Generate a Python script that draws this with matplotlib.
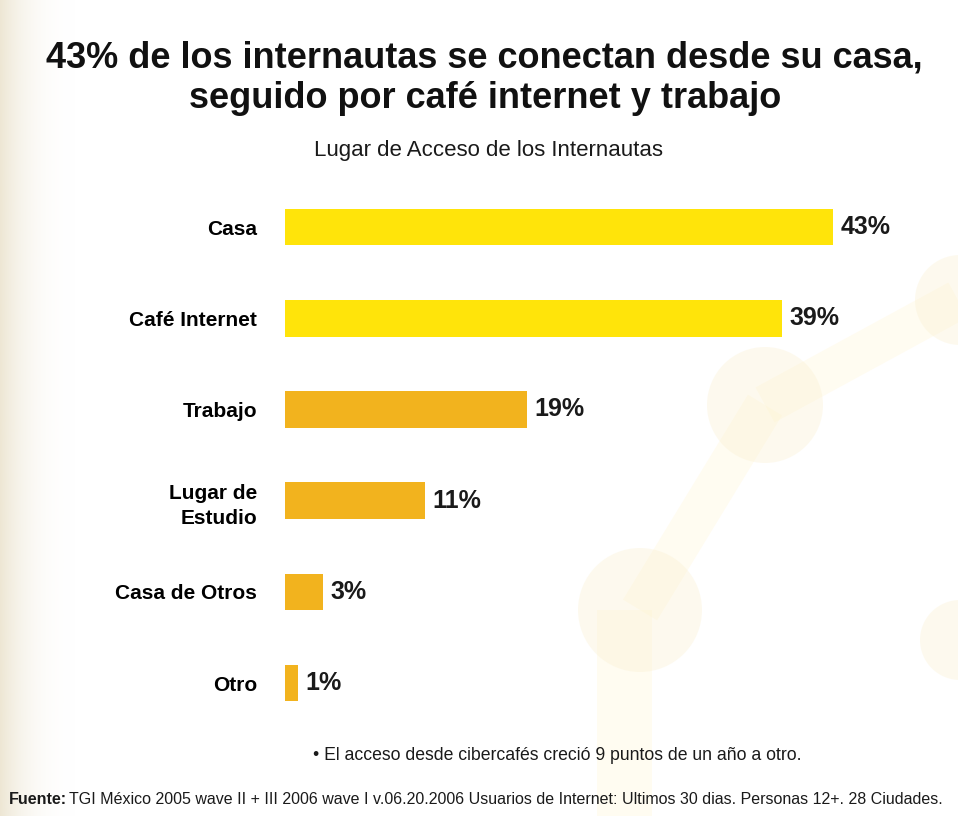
import numpy as np
import matplotlib.pyplot as plt
from matplotlib.patches import Circle, Polygon

plt.rcParams['font.family'] = ['Liberation Sans', 'DejaVu Sans']

lugares = ['Casa', 'Café Internet', 'Trabajo', 'Lugar de\nEstudio', 'Casa de Otros', 'Otro']
porcentajes = [43, 39, 19, 11, 3, 1]
colores = ['#FFE40A', '#FFE40A', '#F2B31E', '#F2B31E', '#F2B31E', '#F2B31E']

titulo = '43% de los internautas se conectan desde su casa,\nseguido por café internet y trabajo'
subtitulo = 'Lugar de Acceso de los Internautas'
nota = '• El acceso desde cibercafés creció 9 puntos de un año a otro.'
fuente = 'TGI México 2005 wave II + III 2006 wave I v.06.20.2006 Usuarios de Internet: Ultimos 30 dias. Personas 12+. 28 Ciudades.'

fig = plt.figure(figsize=(9.58, 8.16), dpi=100)

# fondo: degradado crema a la izquierda y esferas tenues unidas por barras
bg = fig.add_axes([0, 0, 1, 1], zorder=-10)
bg.set_xlim(0, 958)
bg.set_ylim(816, 0)
bg.axis('off')
grad = np.linspace(1, 0, 256) ** 3
img = np.ones((1, 256, 4))
img[..., 0] = 0.92
img[..., 1] = 0.89
img[..., 2] = 0.80
img[..., 3] = grad * 0.85
bg.imshow(img, extent=[0, 90, 816, 0], aspect='auto')
tono = '#FFF6D2'
for (x0, y0), (x1, y1), w in [((640, 610), (765, 405), 40), ((765, 405), (958, 300), 40),
                              ((625, 610), (625, 816), 55)]:
    dx, dy = x1 - x0, y1 - y0
    n = np.hypot(dx, dy)
    ox, oy = -dy / n * w / 2, dx / n * w / 2
    bg.add_patch(Polygon([(x0 + ox, y0 + oy), (x1 + ox, y1 + oy), (x1 - ox, y1 - oy), (x0 - ox, y0 - oy)],
                         facecolor=tono, edgecolor='none', alpha=0.3))
for cx, cy, r in [(765, 405, 58), (640, 610, 62), (960, 300, 45), (960, 640, 40)]:
    bg.add_patch(Circle((cx, cy), r, facecolor='#FBF0D0', edgecolor='none', alpha=0.35))

ax = fig.add_axes([0.2975, 0.107, 0.665, 0.6706])
y = np.arange(len(lugares))
ax.barh(y, porcentajes, height=0.4, color=colores)
ax.set_xlim(0, 50)
ax.set_ylim(len(lugares) - 0.5, -0.5)
ax.set_yticks(y)
ax.set_yticklabels(lugares, fontsize=15, fontweight='bold', linespacing=1.4)
ax.tick_params(axis='y', length=0, pad=20)
ax.set_xticks([])
for s in ax.spines.values():
    s.set_visible(False)
ax.patch.set_alpha(0)

for yi, v in zip(y, porcentajes):
    ax.text(v + 0.6, yi, f'{v}%', va='center', ha='left', fontsize=18, fontweight='bold', color='#1a1a1a')

fig.text(0.506, 0.904, titulo, ha='center', va='center', fontsize=26, fontweight='bold',
         linespacing=1.22, color='#111111')
fig.text(0.51, 0.816, subtitulo, ha='center', va='center', fontsize=16, color='#1a1a1a')
fig.text(0.582, 0.074, nota, ha='center', va='center', fontsize=12.7, color='#1a1a1a')
fig.text(0.009, 0.02, 'Fuente:', ha='left', va='center', fontsize=11.5, fontweight='bold', color='#1a1a1a')
fig.text(0.072, 0.02, fuente, ha='left', va='center', fontsize=11.5, color='#1a1a1a')

fig.savefig('out.png', dpi=100, facecolor='white')
